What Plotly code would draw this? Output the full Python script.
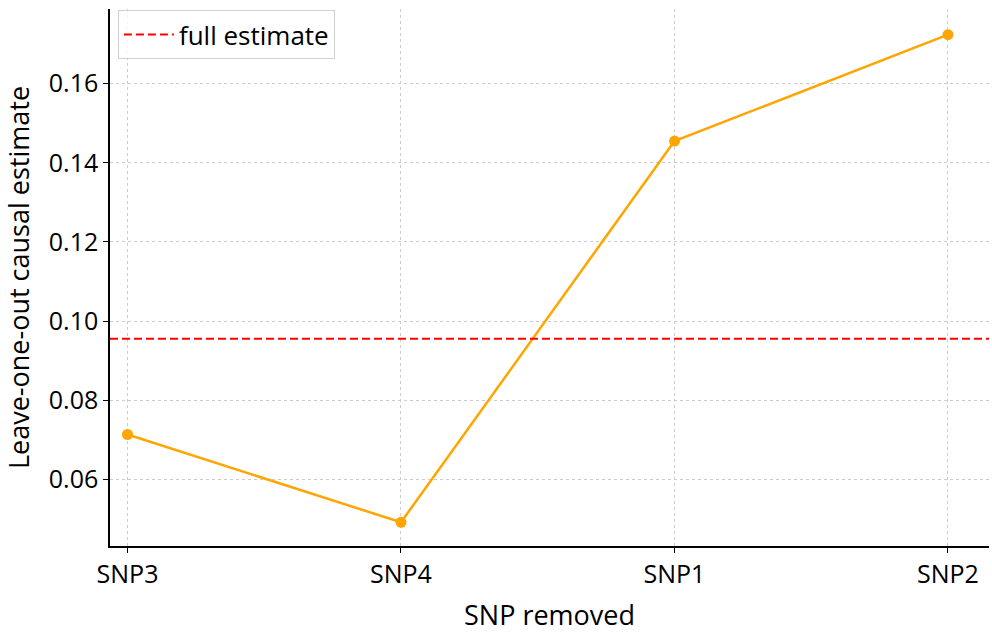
import plotly.graph_objects as go

snps = ["SNP3", "SNP4", "SNP1", "SNP2"]
loo_estimates = [0.0713, 0.0491, 0.1455, 0.1724]
full_estimate = 0.0955

FONT = "Open Sans"
GRID_DASH = "3px,3px"
RED_DASH = "8px,4px"

fig = go.Figure()
fig.add_trace(go.Scatter(
    x=snps, y=loo_estimates, mode="lines+markers",
    line=dict(color="#FFA500", width=2.5),
    marker=dict(color="#FFA500", size=11),
    showlegend=False,
))
fig.add_trace(go.Scatter(
    x=[None], y=[None], mode="lines", name="full estimate",
    line=dict(color="#FF0000", width=2, dash=RED_DASH),
))
fig.add_shape(type="line", xref="paper", x0=0, x1=1, yref="y",
              y0=full_estimate, y1=full_estimate,
              line=dict(color="#FF0000", width=2, dash=RED_DASH))

fig.update_layout(
    width=992, height=633,
    margin=dict(l=110, r=3, t=9, b=87),
    plot_bgcolor="white", paper_bgcolor="white",
    font=dict(family=FONT, size=25, color="black"),
    legend=dict(x=0.009, y=0.998, xanchor="left", yanchor="top",
                bgcolor="rgba(255,255,255,0.8)", bordercolor="#d0d0d0",
                borderwidth=1, font=dict(size=26), itemwidth=50),
    xaxis=dict(
        type="category", range=[-0.064, 3.15], automargin=False,
        title=dict(text="SNP removed", standoff=23, font=dict(size=27)),
        showline=True, linecolor="black", linewidth=1.5,
        ticks="outside", ticklen=5, tickcolor="black",
        tickfont=dict(size=25),
        showgrid=True, gridcolor="#cccccc", griddash=GRID_DASH, gridwidth=1,
        zeroline=False,
    ),
    yaxis=dict(
        range=[0.0431, 0.1789], automargin=False,
        tickvals=[0.06, 0.08, 0.10, 0.12, 0.14, 0.16],
        tickformat=".2f",
        tickfont=dict(size=25),
        title=dict(text="Leave-one-out causal estimate", standoff=16,
                   font=dict(size=27)),
        showline=True, linecolor="black", linewidth=1.5,
        ticks="outside", ticklen=5, tickcolor="black",
        showgrid=True, gridcolor="#cccccc", griddash=GRID_DASH, gridwidth=1,
        zeroline=False,
    ),
)

fig.write_html("out.html", config={"displayModeBar": False},
               post_script="document.body.style.margin='0';")
